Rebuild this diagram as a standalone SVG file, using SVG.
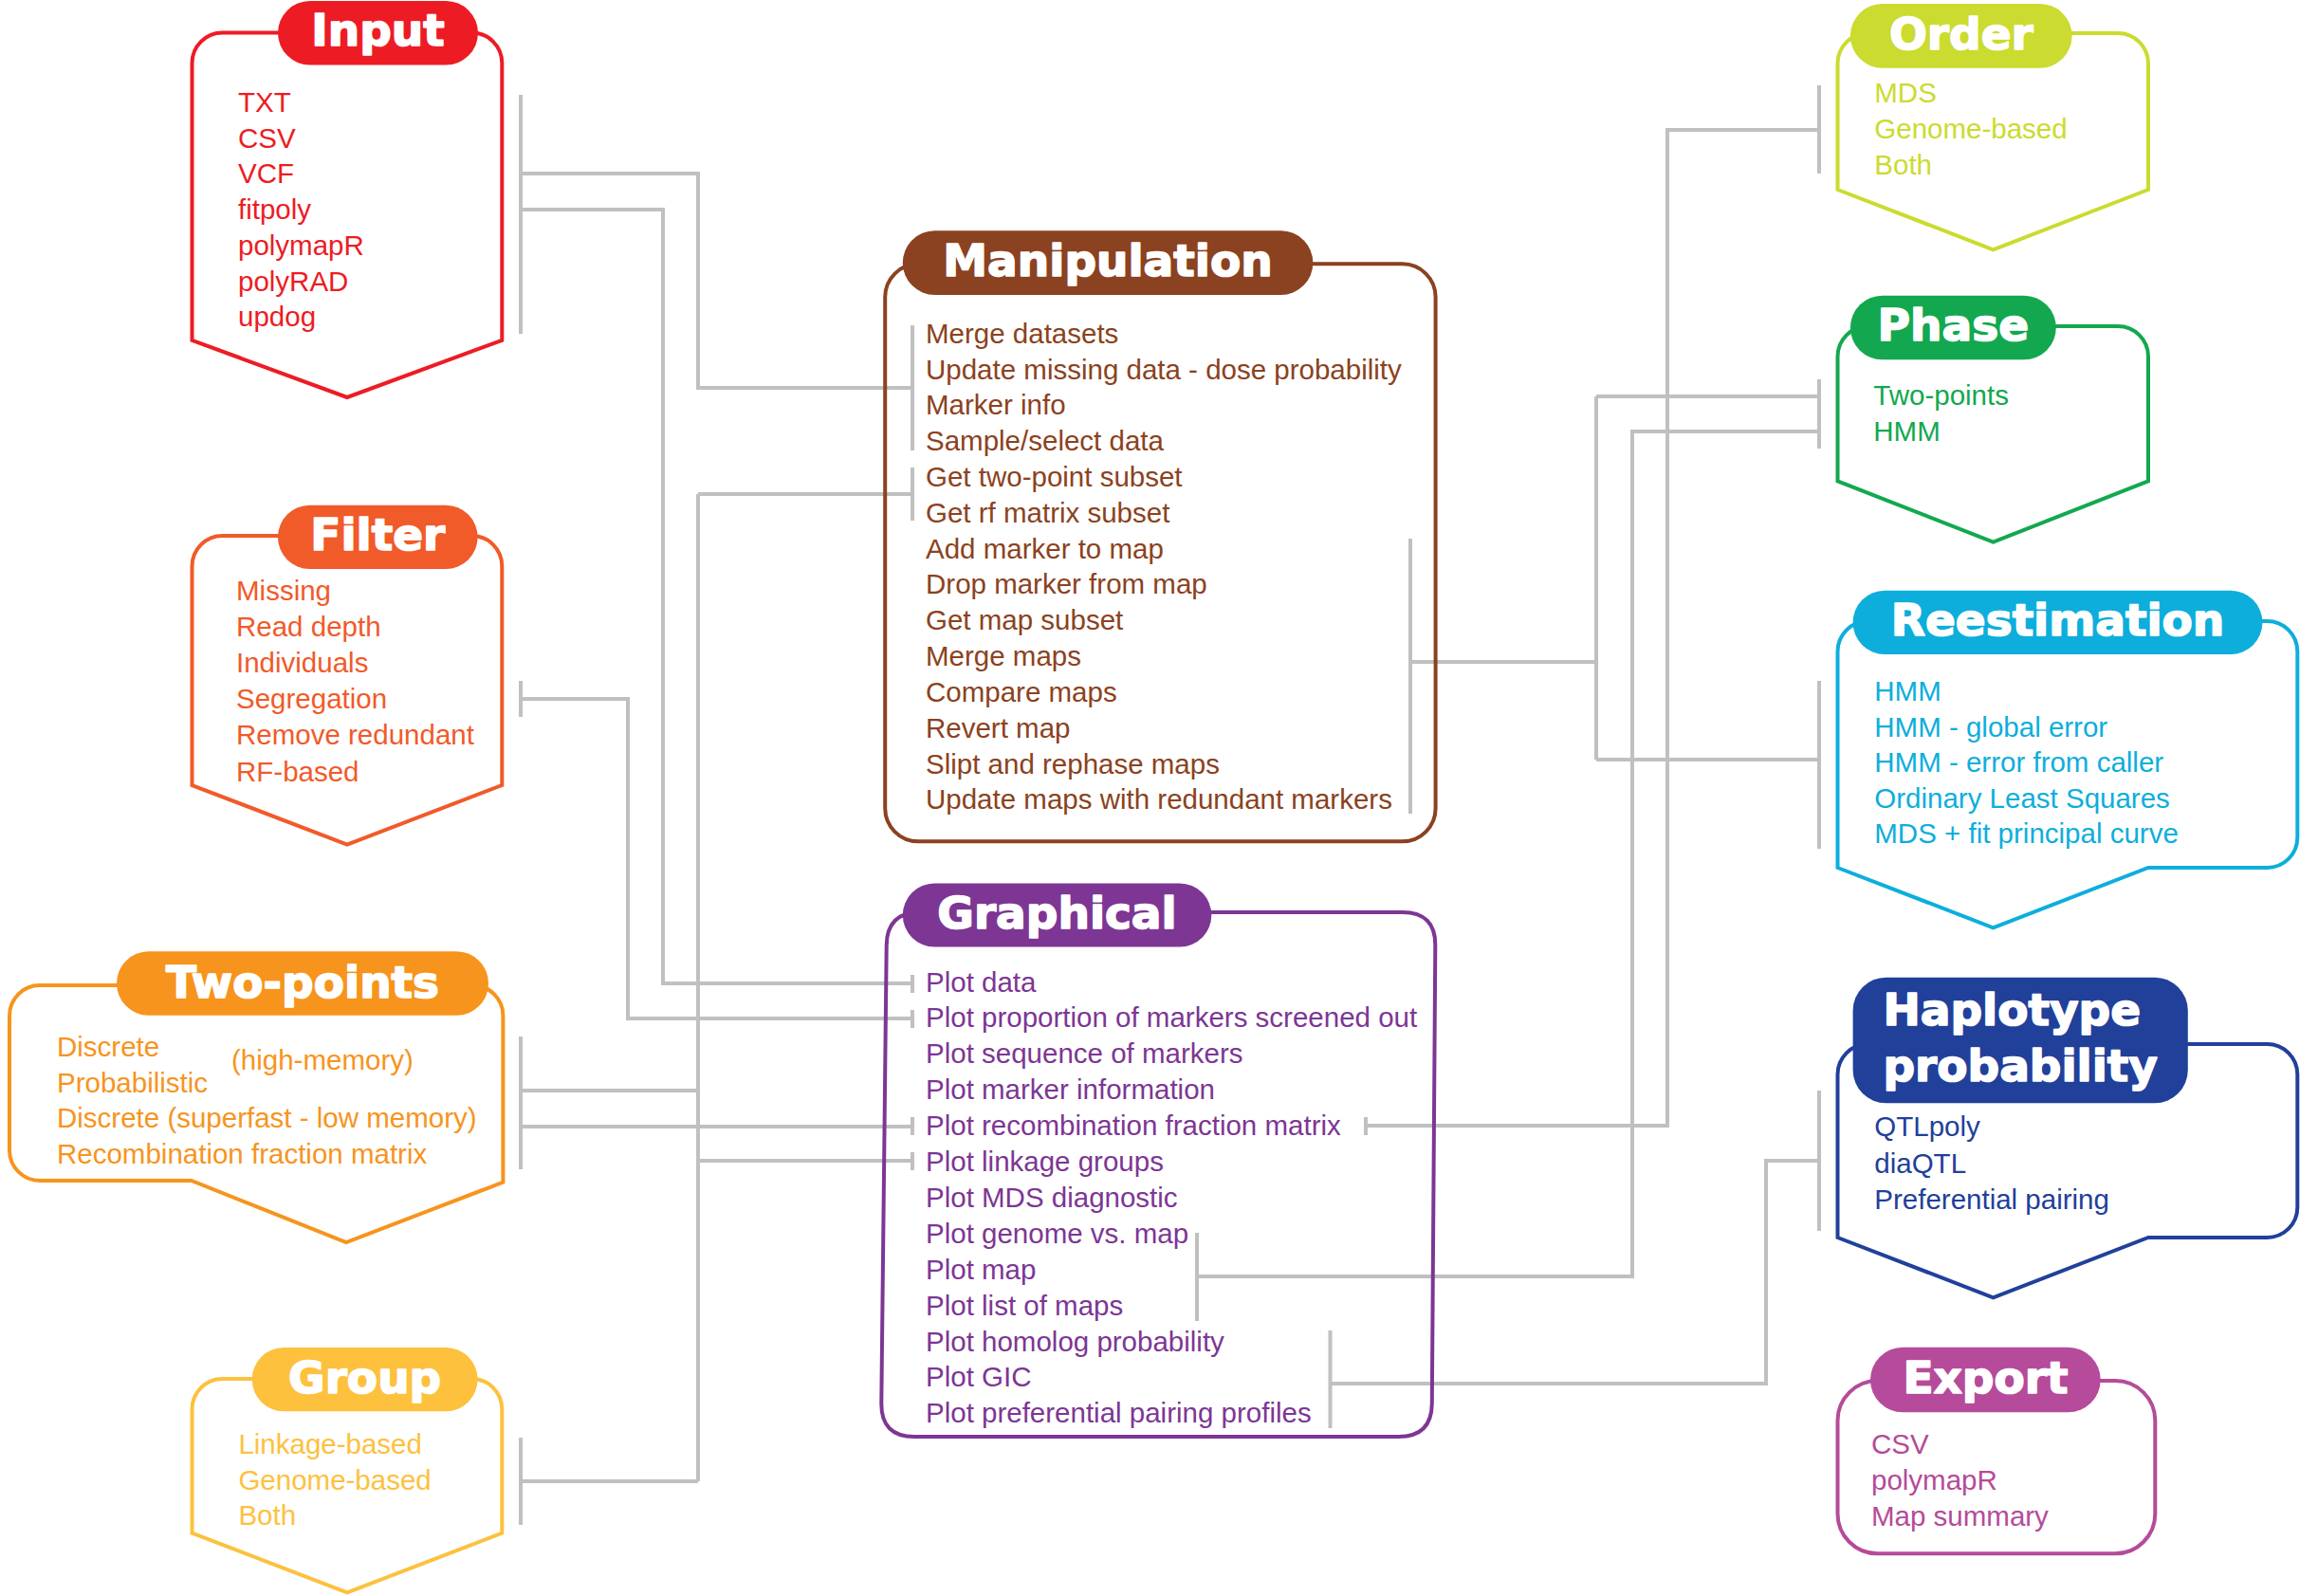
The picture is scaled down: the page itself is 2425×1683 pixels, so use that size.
<svg xmlns="http://www.w3.org/2000/svg" width="2425" height="1683" viewBox="0 0 2425 1683">
<style>
.box{fill:none;stroke-width:4;stroke-linejoin:miter}
.c{fill:none;stroke:#C0C0C0;stroke-width:4}
.t{font-family:"Liberation Sans",Arial,sans-serif;font-size:29.5px}
.h{font-family:"DejaVu Sans",sans-serif;font-weight:bold;font-size:47px;fill:#fff;stroke:#fff;stroke-width:1.6px;stroke-linejoin:round;text-anchor:middle}
</style>
<rect x="0" y="0" width="2425" height="1683" fill="#fff"/>
<g id="connectors" class="c">
<path d="M549,100 V352 M549,183 H736 V409 H962 M962,343 V475"/>
<path d="M549,221 H699 V1037 H962 M962,1028 V1047"/>
<path d="M549,718 V756 M549,737 H662 V1074 H962 M962,1065 V1084"/>
<path d="M549,1093 V1233 M549,1150 H736 M736,521 V1562 M736,521 H962 M962,493 V549 M549,1516 V1608 M549,1562 H736 M736,1224 H962 M962,1215 V1234"/>
<path d="M549,1188 H962 M962,1178 V1197"/>
<path d="M1487,568 V858 M1487,698 H1683 M1683,418 V801 M1683,418 H1918 M1683,801 H1918 M1918,718 V895 M1918,400 V473"/>
<path d="M1440,1178 V1197 M1440,1187 H1758 V137 H1918 M1918,90 V183"/>
<path d="M1262,1300 V1393 M1262,1346 H1721 V455 H1918"/>
<path d="M1402.5,1403 V1506 M1402.5,1459 H1862 V1224 H1918 M1918,1150 V1298"/>
</g>
<g id="input">
<path class="box" stroke="#ED1C24" d="M202.5,358.8 V66.5 A32,32 0 0 1 234.5,34.5 H497.3 A32,32 0 0 1 529.3,66.5 V358.8 L366,419 Z"/>
<rect x="293" y="1" width="211" height="67.5" rx="33.75" fill="#ED1C24"/>
<text class="h" x="398.5" y="48.3">Input</text>
<text class="t" fill="#ED1C24"><tspan x="251" y="118">TXT</tspan><tspan x="251" y="155.7">CSV</tspan><tspan x="251" y="193.4">VCF</tspan><tspan x="251" y="231.1">fitpoly</tspan><tspan x="251" y="268.8">polymapR</tspan><tspan x="251" y="306.5">polyRAD</tspan><tspan x="251" y="344.2">updog</tspan></text>
</g>
<g id="filter">
<path class="box" stroke="#F15A29" d="M202.5,828 V597 A32,32 0 0 1 234.5,565 H497.3 A32,32 0 0 1 529.3,597 V828 L366,890.7 Z"/>
<rect x="293" y="532.7" width="210.6" height="67.3" rx="33.6" fill="#F15A29"/>
<text class="h" x="398.3" y="580">Filter</text>
<text class="t" fill="#F15A29"><tspan x="249" y="633">Missing</tspan><tspan x="249" y="671.1">Read depth</tspan><tspan x="249" y="709.2">Individuals</tspan><tspan x="249" y="747.3">Segregation</tspan><tspan x="249" y="785.4">Remove redundant</tspan><tspan x="249" y="823.5">RF-based</tspan></text>
</g>
<g id="two-points">
<path class="box" stroke="#F7941D" d="M201.8,1245 H42 A32,32 0 0 1 10,1213 V1071 A32,32 0 0 1 42,1039 H498.4 A32,32 0 0 1 530.4,1071 V1246.7 L365,1310 Z"/>
<rect x="123" y="1003.3" width="392" height="67.4" rx="33.7" fill="#F7941D"/>
<text class="h" x="319" y="1051.7">Two-points</text>
<text class="t" fill="#F7941D"><tspan x="60" y="1114">Discrete</tspan><tspan x="60" y="1151.7">Probabilistic</tspan><tspan x="60" y="1189.3">Discrete (superfast - low memory)</tspan><tspan x="60" y="1227.3">Recombination fraction matrix</tspan></text>
<text class="t" fill="#F7941D" x="244" y="1127.7">(high-memory)</text>
</g>
<g id="group">
<path class="box" stroke="#FDC13E" d="M202.5,1616.7 V1486 A32,32 0 0 1 234.5,1454 H497.3 A32,32 0 0 1 529.3,1486 V1616.7 L366,1679.3 Z"/>
<rect x="265.7" y="1421" width="237.9" height="67.3" rx="33.6" fill="#FDC13E"/>
<text class="h" x="384.7" y="1469.3">Group</text>
<text class="t" fill="#FDC13E"><tspan x="251.4" y="1532.7">Linkage-based</tspan><tspan x="251.4" y="1570.7">Genome-based</tspan><tspan x="251.4" y="1608.3">Both</tspan></text>
</g>
<g id="manipulation">
<rect class="box" stroke="#8B4220" x="933.2" y="278.3" width="580.4" height="609" rx="35"/>
<rect x="951.8" y="243.3" width="432.5" height="67.7" rx="33.8" fill="#8B4220"/>
<text class="h" x="1168" y="291">Manipulation</text>
<text class="t" fill="#8B4220"><tspan x="976" y="361.7">Merge datasets</tspan><tspan x="976" y="399.5">Update missing data - dose probability</tspan><tspan x="976" y="437.3">Marker info</tspan><tspan x="976" y="475.1">Sample/select data</tspan><tspan x="976" y="512.9">Get two-point subset</tspan><tspan x="976" y="550.8">Get rf matrix subset</tspan><tspan x="976" y="588.6">Add marker to map</tspan><tspan x="976" y="626.4">Drop marker from map</tspan><tspan x="976" y="664.2">Get map subset</tspan><tspan x="976" y="702">Merge maps</tspan><tspan x="976" y="739.9">Compare maps</tspan><tspan x="976" y="777.7">Revert map</tspan><tspan x="976" y="815.5">Slipt and rephase maps</tspan><tspan x="976" y="853.3">Update maps with redundant markers</tspan></text>
</g>
<g id="graphical">
<path class="box" stroke="#7D3694" d="M970,962 H1478.6 Q1513.6,962 1513.3,997 L1509.8,1480 Q1509.5,1515 1474.5,1515 H964 Q929,1515 929.3,1480 L934.7,997 Q935,962 970,962 Z"/>
<rect x="951.8" y="931.5" width="325.5" height="67" rx="33.5" fill="#7D3694"/>
<text class="h" x="1114.5" y="979.3">Graphical</text>
<text class="t" fill="#7D3694"><tspan x="976" y="1045.5">Plot data</tspan><tspan x="976" y="1083.4">Plot proportion of markers screened out</tspan><tspan x="976" y="1121.3">Plot sequence of markers</tspan><tspan x="976" y="1159.2">Plot marker information</tspan><tspan x="976" y="1197.1">Plot recombination fraction matrix</tspan><tspan x="976" y="1235">Plot linkage groups</tspan><tspan x="976" y="1272.9">Plot MDS diagnostic</tspan><tspan x="976" y="1310.8">Plot genome vs. map</tspan><tspan x="976" y="1348.7">Plot map</tspan><tspan x="976" y="1386.6">Plot list of maps</tspan><tspan x="976" y="1424.5">Plot homolog probability</tspan><tspan x="976" y="1462.4">Plot GIC</tspan><tspan x="976" y="1500.3">Plot preferential pairing profiles</tspan></text>
</g>
<g id="order">
<path class="box" stroke="#CBDB2F" d="M1937.5,200 V67 A32,32 0 0 1 1969.5,35 H2233 A32,32 0 0 1 2265,67 V200 L2101.5,263.3 Z"/>
<rect x="1950.9" y="4" width="233.7" height="67.7" rx="33.8" fill="#CBDB2F"/>
<text class="h" x="2067.8" y="51.7">Order</text>
<text class="t" fill="#CBDB2F"><tspan x="1976.3" y="108.3">MDS</tspan><tspan x="1976.3" y="146.1">Genome-based</tspan><tspan x="1976.3" y="184">Both</tspan></text>
</g>
<g id="phase">
<path class="box" stroke="#13A84F" d="M1937.5,507.3 V376 A32,32 0 0 1 1969.5,344 H2233 A32,32 0 0 1 2265,376 V507.3 L2101.5,571.7 Z"/>
<rect x="1950.9" y="311.7" width="216.9" height="67.6" rx="33.8" fill="#13A84F"/>
<text class="h" x="2059.3" y="359.3">Phase</text>
<text class="t" fill="#13A84F"><tspan x="1975.3" y="427.3">Two-points</tspan><tspan x="1975.3" y="465">HMM</tspan></text>
</g>
<g id="reestimation">
<path class="box" stroke="#0DAEDC" d="M1937.5,915 V687 A32,32 0 0 1 1969.5,655 H2390.3 A32,32 0 0 1 2422.3,687 V883 A32,32 0 0 1 2390.3,915 H2265 L2101.5,978.3 Z"/>
<rect x="1953.6" y="622.7" width="431.8" height="67.3" rx="33.6" fill="#0DAEDC"/>
<text class="h" x="2169.5" y="670">Reestimation</text>
<text class="t" fill="#0DAEDC"><tspan x="1976.3" y="739.3">HMM</tspan><tspan x="1976.3" y="776.8">HMM - global error</tspan><tspan x="1976.3" y="814.3">HMM - error from caller</tspan><tspan x="1976.3" y="851.8">Ordinary Least Squares</tspan><tspan x="1976.3" y="889.3">MDS + fit principal curve</tspan></text>
</g>
<g id="haplotype-probability">
<path class="box" stroke="#21409A" d="M1937.5,1305 V1133 A32,32 0 0 1 1969.5,1101 H2390.3 A32,32 0 0 1 2422.3,1133 V1273 A32,32 0 0 1 2390.3,1305 H2265 L2101.5,1368.3 Z"/>
<rect x="1953.6" y="1030.7" width="353.2" height="132.6" rx="35" fill="#21409A"/>
<text class="h" style="text-anchor:start"><tspan x="1985.4" y="1081">Haplotype</tspan><tspan x="1985.4" y="1140">probability</tspan></text>
<text class="t" fill="#21409A"><tspan x="1976.3" y="1198.3">QTLpoly</tspan><tspan x="1976.3" y="1236.6">diaQTL</tspan><tspan x="1976.3" y="1275">Preferential pairing</tspan></text>
</g>
<g id="export">
<rect class="box" stroke="#B54B9A" x="1937.5" y="1456" width="334.8" height="182.3" rx="42"/>
<rect x="1972" y="1420.7" width="242.7" height="68.6" rx="34.3" fill="#B54B9A"/>
<text class="h" x="2093.4" y="1469">Export</text>
<text class="t" fill="#B54B9A"><tspan x="1973" y="1533.3">CSV</tspan><tspan x="1973" y="1570.7">polymapR</tspan><tspan x="1973" y="1609.3">Map summary</tspan></text>
</g>
</svg>
